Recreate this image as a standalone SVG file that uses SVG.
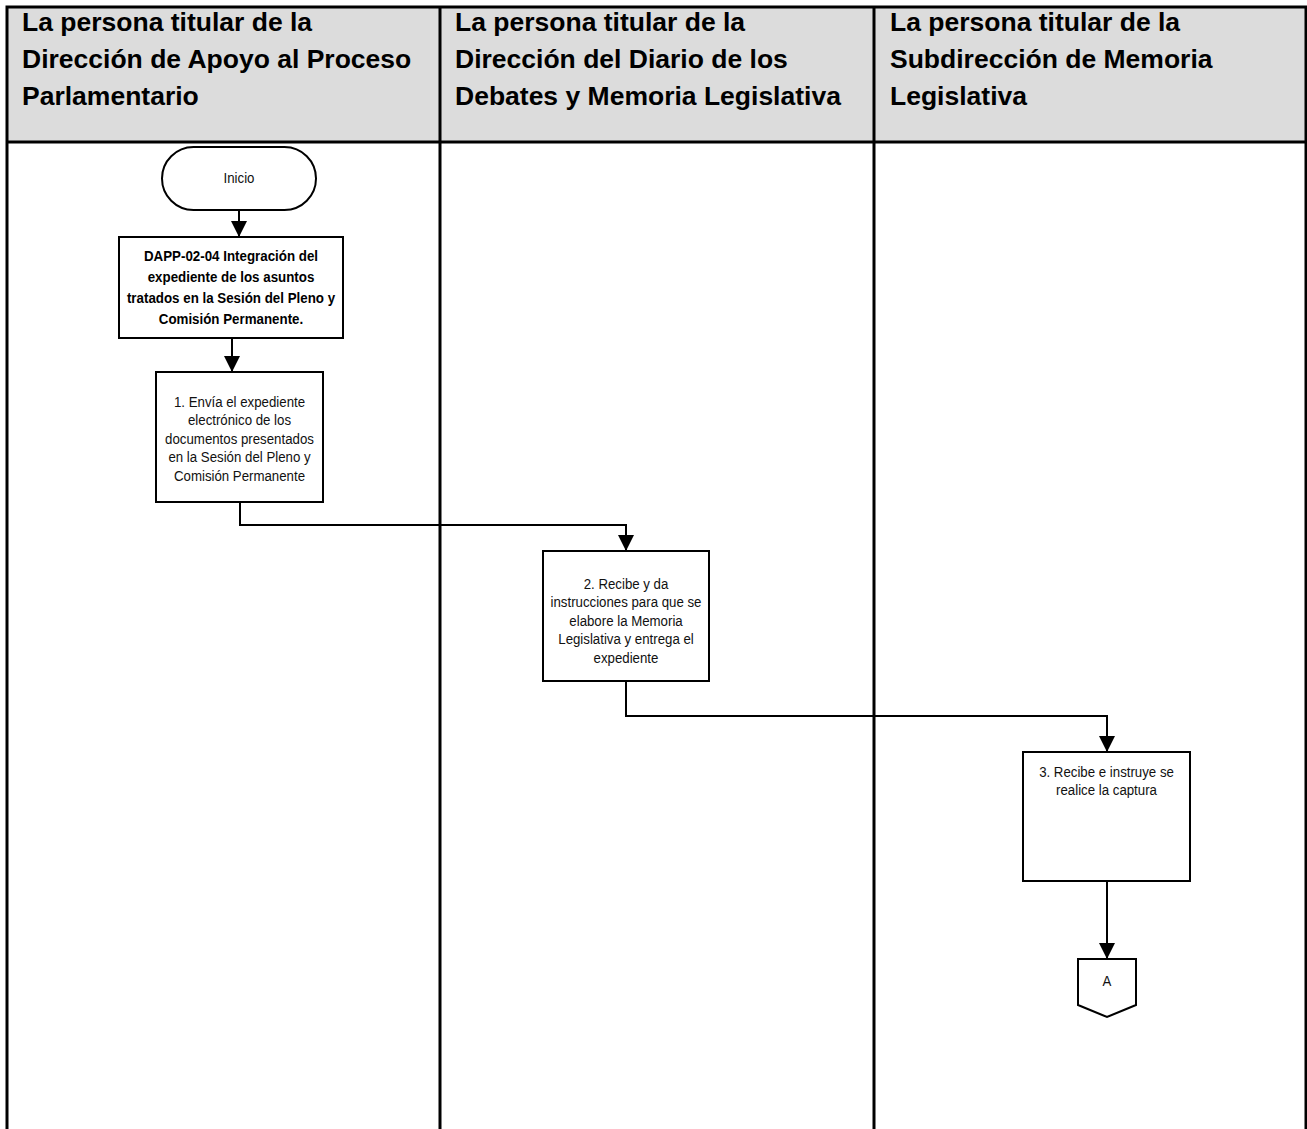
<svg xmlns="http://www.w3.org/2000/svg" width="1307" height="1129" viewBox="0 0 1307 1129">
  <defs>
    <marker id="arrowDown" markerUnits="userSpaceOnUse" markerWidth="16" markerHeight="16" viewBox="0 0 16 16" refX="8" refY="16" orient="0">
      <path d="M0 0 L16 0 L8 16 Z" fill="#000"/>
    </marker>
  </defs>
  <style>
    .lane-head { fill: #dcdcdc; }
    .lane-line { stroke: #000; stroke-width: 3; fill: none; }
    .head-text { font-family: "Liberation Sans", Arial, sans-serif; font-weight: bold; font-size: 26.5px; fill: #000; }
    .box { fill: #fff; stroke: #000; stroke-width: 2; }
    .txt { font-family: "Liberation Sans", Arial, sans-serif; font-size: 14.5px; fill: #111; text-anchor: middle; }
    .txt-b { font-family: "Liberation Sans", Arial, sans-serif; font-size: 14.5px; font-weight: bold; fill: #000; text-anchor: middle; }
    .conn { fill: none; stroke: #000; stroke-width: 2; marker-end: url(#arrowDown); }
  </style>

  <rect width="1307" height="1129" fill="#fff"/>

  <!-- swimlane frame and headers -->
  <g id="lanes">
    <rect class="lane-head" x="7" y="7" width="1299" height="135"/>
    <path class="lane-line" d="M7 1129 V7 H1306 V1129"/>
    <path class="lane-line" d="M7 142 H1306"/>
    <path class="lane-line" d="M440 7 V1129"/>
    <path class="lane-line" d="M874 7 V1129"/>
    <text class="head-text" x="22" y="31">La persona titular de la</text>
    <text class="head-text" x="22" y="68">Dirección de Apoyo al Proceso</text>
    <text class="head-text" x="22" y="105">Parlamentario</text>
    <text class="head-text" x="455" y="31">La persona titular de la</text>
    <text class="head-text" x="455" y="68">Dirección del Diario de los</text>
    <text class="head-text" x="455" y="105">Debates y Memoria Legislativa</text>
    <text class="head-text" x="890" y="31">La persona titular de la</text>
    <text class="head-text" x="890" y="68">Subdirección de Memoria</text>
    <text class="head-text" x="890" y="105">Legislativa</text>
  </g>

  <!-- connectors -->
  <g id="connectors">
    <path class="conn" d="M239 210 V237"/>
    <path class="conn" d="M232 338 V372"/>
    <path class="conn" d="M240 502 V525 H626 V551"/>
    <path class="conn" d="M626 681 V716 H1107 V752"/>
    <path class="conn" d="M1107 881 V959"/>
  </g>

  <g id="inicio">
    <rect class="box" x="162" y="147" width="154" height="63" rx="31.5" ry="31.5"/>
    <g transform="translate(239 0) scale(0.915 1)">
      <text class="txt" x="0" y="183">Inicio</text>
    </g>
  </g>

  <g id="dapp-02-04">
    <rect class="box" x="119" y="237" width="224" height="101"/>
    <g transform="translate(231 0) scale(0.92 1)">
      <text class="txt-b" x="0" y="261">DAPP-02-04 Integración del</text>
      <text class="txt-b" x="0" y="282">expediente de los asuntos</text>
      <text class="txt-b" x="0" y="303">tratados en la Sesión del Pleno y</text>
      <text class="txt-b" x="0" y="324">Comisión Permanente.</text>
    </g>
  </g>

  <g id="paso-1">
    <rect class="box" x="156" y="372" width="167" height="130"/>
    <g transform="translate(239.5 0) scale(0.915 1)">
      <text class="txt" x="0" y="407">1. Envía el expediente</text>
      <text class="txt" x="0" y="425.5">electrónico de los</text>
      <text class="txt" x="0" y="444">documentos presentados</text>
      <text class="txt" x="0" y="462.5">en la Sesión del Pleno y</text>
      <text class="txt" x="0" y="481">Comisión Permanente</text>
    </g>
  </g>

  <g id="paso-2">
    <rect class="box" x="543" y="551" width="166" height="130"/>
    <g transform="translate(626 0) scale(0.915 1)">
      <text class="txt" x="0" y="589">2. Recibe y da</text>
      <text class="txt" x="0" y="607.5">instrucciones para que se</text>
      <text class="txt" x="0" y="626">elabore la Memoria</text>
      <text class="txt" x="0" y="644.5">Legislativa y entrega el</text>
      <text class="txt" x="0" y="663">expediente</text>
    </g>
  </g>

  <g id="paso-3">
    <rect class="box" x="1023" y="752" width="167" height="129"/>
    <g transform="translate(1106.5 0) scale(0.915 1)">
      <text class="txt" x="0" y="777">3. Recibe e instruye se</text>
      <text class="txt" x="0" y="795.5">realice la captura</text>
    </g>
  </g>

  <g id="conector-a">
    <polygon class="box" points="1078,959 1136,959 1136,1005 1107,1017 1078,1005"/>
    <g transform="translate(1107 0) scale(0.915 1)">
      <text class="txt" x="0" y="986">A</text>
    </g>
  </g>
</svg>
